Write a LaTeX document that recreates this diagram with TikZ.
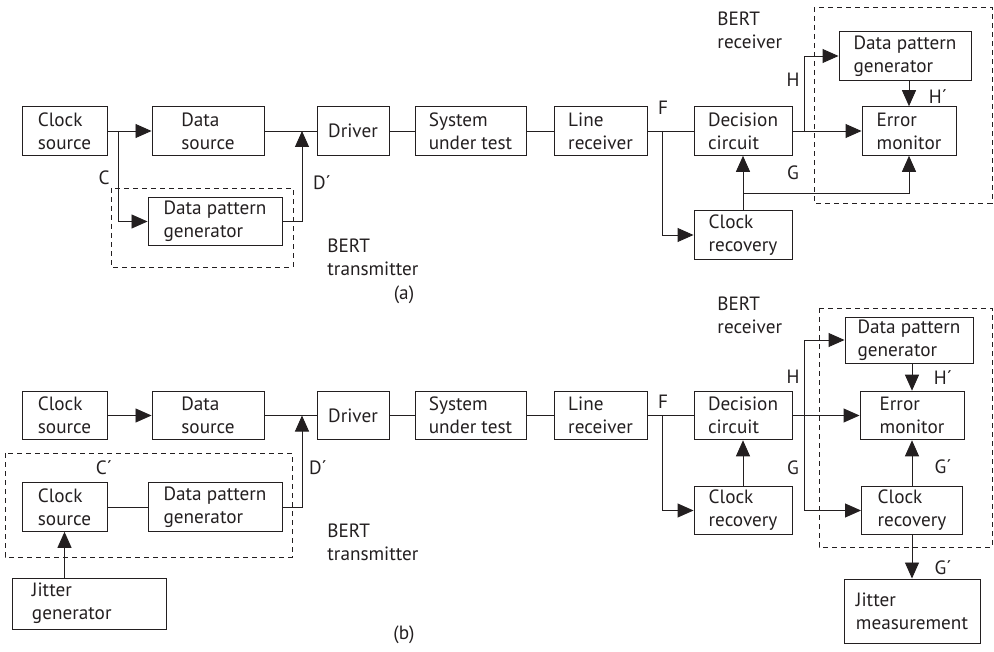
\documentclass[tikz,border=0pt]{standalone}
\usepackage{fontspec}
\setmainfont{PT Sans}
\usetikzlibrary{arrows.meta}
\definecolor{ink}{RGB}{35,31,32}

\begin{document}
\begin{tikzpicture}[x=0.03cm, y=-0.03cm, color=ink, line width=0.8pt, every node/.style={font=\fontsize{16.4}{19.8}\selectfont}, >={Triangle[length=4.8mm,width=4.2mm]}, blk/.style={draw, align=left, minimum height=1.46cm, inner sep=2pt}, lbl/.style={inner sep=0pt}, bert/.style={draw, dash pattern=on 1.5mm off 1.2mm}]
	\useasboundingbox (0,0) rectangle (994,652);
	% (a) BERT with separate pattern generator
	\node[blk, minimum width=2.55cm] (csA) at (64.5,131) {Clock\\source};
	\node[blk, minimum width=3.36cm] (dsA) at (208,131) {Data\\source};
	\node[blk, minimum width=2.16cm] (drvA) at (353,131) {Driver};
	\node[blk, minimum width=3.33cm] (sutA) at (470.5,131) {System\\under test};
	\node[blk, minimum width=2.79cm] (lrA) at (600.5,131) {Line\\receiver};
	\node[blk, minimum width=2.94cm] (dcA) at (743,131) {Decision\\circuit};
	\node[blk, minimum width=2.94cm] (crA) at (743,235) {Clock\\recovery};
	\node[blk, minimum width=2.82cm] (emA) at (909,131) {Error\\monitor};
	\node[blk, minimum width=3.96cm] (dpgRA) at (905,56) {Data pattern\\generator};
	\node[blk, minimum width=4.02cm] (dpgTA) at (215,221.5) {Data pattern\\generator};
	\coordinate (cA) at (118,131);
	\coordinate (dA) at (302,131);
	\coordinate (fA) at (662,131);
	\coordinate (gA) at (743,193);
	\coordinate (hA) at (804,131);
	\draw[->] (csA) -- (dsA);
	\draw[->] (cA) |- (dpgTA.west);
	\draw (dsA) -- (drvA) -- (sutA) -- (lrA) -- (dcA);
	\draw[->] (dpgTA.east) -| (dA);
	\draw[->] (fA) |- (crA.west);
	\draw[->] (crA) -- (dcA);
	\draw[->] (gA) -| (emA.south);
	\draw[->] (dcA) -- (emA);
	\draw[->] (hA) |- (dpgRA.west);
	\draw[->] (dpgRA.south -| emA.north) -- (emA.north);
	\draw[bert] (111,188) rectangle (293,267);
	\draw[bert] (814,7) rectangle (992,203);
	\node (lCa) at (104,178) {C};
	\node (lDa) at (322,183) {D´};
	\node (lFa) at (663,108) {F};
	\node (lHa) at (793,80) {H};
	\node (lHpa) at (938,97) {H´};
	\node (lGa) at (793,173) {G};
	\node[lbl, align=left, anchor=west] (btA) at (327,257) {BERT\\transmitter};
	\node[lbl, align=left, anchor=west] (brA) at (717,30.5) {BERT\\receiver};
	\node (capA) at (404,295) {(a)};
	% (b) BERT with jitter injection and measurement
	\node[blk, minimum width=2.55cm] (csB) at (64.5,415.5) {Clock\\source};
	\node[blk, minimum width=3.36cm] (dsB) at (208,415.5) {Data\\source};
	\node[blk, minimum width=2.16cm] (drvB) at (353,415.5) {Driver};
	\node[blk, minimum width=3.33cm] (sutB) at (470.5,415.5) {System\\under test};
	\node[blk, minimum width=2.79cm] (lrB) at (600.5,415.5) {Line\\receiver};
	\node[blk, minimum width=2.94cm] (dcB) at (743,415.5) {Decision\\circuit};
	\node[blk, minimum width=2.94cm] (crB) at (743,510.5) {Clock\\recovery};
	\node[blk, minimum width=3.12cm] (emB) at (912,415.5) {Error\\monitor};
	\node[blk, minimum width=3.84cm, minimum height=1.38cm] (dpgRB) at (909,340) {Data pattern\\generator};
	\node[blk, minimum width=3.03cm] (cr2B) at (912,510.5) {Clock\\recovery};
	\node[blk, minimum width=4.08cm, minimum height=1.92cm] (jmB) at (912,611) {Jitter\\measurement};
	\node[blk, minimum width=2.55cm] (cs2B) at (64.5,507) {Clock\\source};
	\node[blk, minimum width=4.02cm] (dpgTB) at (215,507) {Data pattern\\generator};
	\node[blk, minimum width=4.62cm, minimum height=1.53cm, text width=3.42cm] (jgB) at (89,603.5) {Jitter\\generator};
	\coordinate (dB) at (302,415.5);
	\coordinate (fB) at (662,415.5);
	\coordinate (hB) at (804,415.5);
	\draw[->] (csB) -- (dsB);
	\draw (dsB) -- (drvB) -- (sutB) -- (lrB) -- (dcB);
	\draw (cs2B) -- (dpgTB);
	\draw[->] (dpgTB.east) -| (dB);
	\draw[->] (cs2B.south |- jgB.north) -- (cs2B.south);
	\draw[->] (fB) |- (crB.west);
	\draw[->] (crB) -- (dcB);
	\draw[->] (dcB) -- (emB);
	\draw[->] (hB) |- (dpgRB.west);
	\draw[->] (hB) |- (cr2B.west);
	\draw[->] (dpgRB.south -| emB.north) -- (emB.north);
	\draw[->] (cr2B) -- (emB);
	\draw[->] (cr2B) -- (jmB);
	\draw[bert] (5,453) rectangle (292,557);
	\draw[bert] (819,308) rectangle (992,547);
	\node (lCb) at (104,468) {C´};
	\node (lDb) at (318,468) {D´};
	\node (lFb) at (663,402) {F};
	\node (lHb) at (793,377) {H};
	\node (lHpb) at (943,378) {H´};
	\node (lGb) at (793,468) {G};
	\node (lGpb) at (943,467) {G´};
	\node (lGpp) at (943,568) {G´};
	\node[lbl, align=left, anchor=west] (btB) at (327,542.5) {BERT\\transmitter};
	\node[lbl, align=left, anchor=west] (brB) at (717,315.5) {BERT\\receiver};
	\node (capB) at (404,635) {(b)};
\end{tikzpicture}
\end{document}
